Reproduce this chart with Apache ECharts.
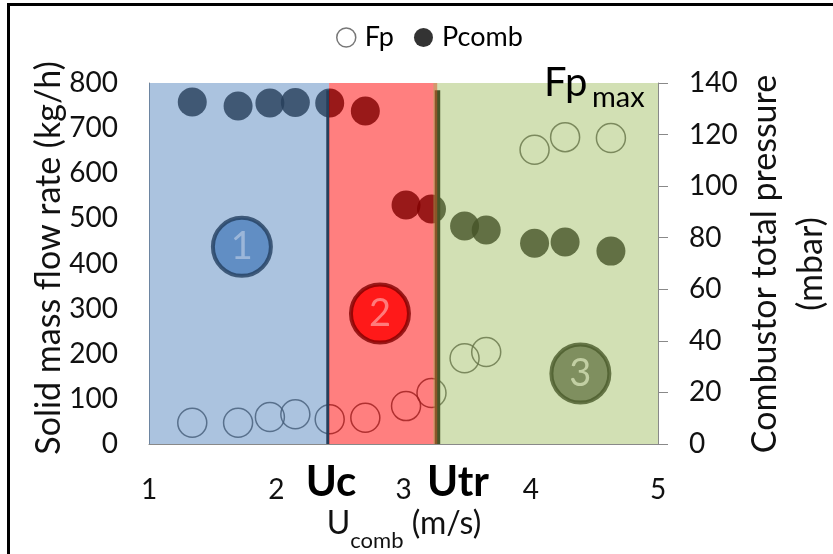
<!DOCTYPE html>
<html>
<head>
<meta charset="utf-8">
<script src="https://cdn.jsdelivr.net/npm/echarts@6/dist/echarts.min.js"></script>
<style>
  html, body { margin: 0; padding: 0; background: #fff; }
  #chart { width: 833px; height: 554px; }
</style>
</head>
<body>
<div id="chart"></div>
<script>
// Combustor gas velocity U_comb (m/s)
const uComb = [1.34, 1.70, 1.95, 2.15, 2.42, 2.70, 3.02, 3.22, 3.48, 3.65, 4.03, 4.27, 4.63];
// Solid mass flow rate Fp (kg/h) - left axis
const fp = [47, 47, 60, 66, 55, 58, 84, 113, 190, 204, 652, 680, 678];
// Combustor total pressure Pcomb (mbar) - right axis
const pComb = [132.6, 131.1, 132.2, 132.4, 132.2, 129.1, 92.7, 91.1, 84.5, 83.0, 77.9, 78.3, 74.8];

// Axis ranges
const xRange = [1, 5, 1];
const leftRange = [0, 800, 100];
const rightRange = [0, 140, 20];

// Flow regimes: [U start, U end, Fp bottom, Fp top]
const regimes = [
  [1.0, 2.415, 0, 800],
  [2.415, 3.265, 0, 800],
  [3.235, 5.0, 0, 800]
];
// Regime labels and their positions [U, Fp]
const regimeLabels = ['1', '2', '3'];
const regimeLabelPos = [[1.73, 437], [2.815, 289], [4.39, 156]];
// Transition velocities Uc and Utr: [U, Fp bottom, Fp top]
const transitions = [[2.405, 0, 784], [3.267, 0, 784]];

const FONT = 'Lato, "Open Sans", sans-serif';
const regimeFill = ['rgba(79,129,189,0.48)', 'rgba(255,0,0,0.5)', 'rgba(155,187,89,0.45)'];
const badgeFill = ['#4f81bd', '#ff0000', '#6a7a4a'];
const badgeStroke = ['#233e5f', '#7f0000', '#4a5a2a'];
const badgeText = ['#aac1df', '#ff9494', '#d3dfb4'];
const transitionWidth = [3, 5.5];

const chart = echarts.init(document.getElementById('chart'), null, { renderer: 'canvas' });

const axisGrey = '#898989';
const tickSize = 28;

// measure text widths for the composed axis title
const ctx = document.createElement('canvas').getContext('2d');
function textWidth(t, size, weight) {
  ctx.font = (weight || 'normal') + ' ' + size + 'px ' + FONT;
  return ctx.measureText(t).width;
}
const tMain = 32, tSub = 22;
const wU = textWidth('U', tMain), wComb = textWidth('comb', tSub), wUnit = textWidth(' (m/s)', tMain);
const xTitleCenter = 404;
const xTitleLeft = xTitleCenter - (wU + wComb + wUnit) / 2;

const option = {
  animation: false,
  backgroundColor: '#fff',
  grid: { left: 149, right: 175, top: 83, bottom: 110, containLabel: false },
  legend: {
    data: [
      { name: 'Fp', icon: 'circle', itemStyle: { color: 'rgba(0,0,0,0)', borderColor: '#555', borderWidth: 1.5 } },
      { name: 'Pcomb', icon: 'circle', itemStyle: { color: '#000' } }
    ],
    left: 331, top: 19,
    itemWidth: 19, itemHeight: 19, itemGap: 20,
    textStyle: { fontFamily: FONT, fontSize: 27, color: '#000', padding: [0, 0, 0, 4] },
    selectedMode: false
  },
  xAxis: {
    type: 'value', min: xRange[0], max: xRange[1], interval: xRange[2],
    axisLine: { show: true, lineStyle: { color: axisGrey, width: 1 } },
    axisTick: { show: false },
    splitLine: { show: false },
    axisLabel: { fontFamily: FONT, fontSize: tickSize, color: '#111', margin: 32 }
  },
  yAxis: [
    {
      type: 'value', min: leftRange[0], max: leftRange[1], interval: leftRange[2],
      axisLine: { show: true, lineStyle: { color: axisGrey, width: 1 } },
      axisTick: { show: false },
      splitLine: { show: false },
      axisLabel: { fontFamily: FONT, fontSize: tickSize, color: '#111', margin: 31 }
    },
    {
      type: 'value', position: 'right', min: rightRange[0], max: rightRange[1], interval: rightRange[2],
      axisLine: { show: true, lineStyle: { color: axisGrey, width: 1 } },
      axisTick: { show: true, length: 10, lineStyle: { color: axisGrey } },
      splitLine: { show: false },
      axisLabel: { fontFamily: FONT, fontSize: tickSize, color: '#111', margin: 31 }
    }
  ],
  series: [
    {
      name: 'Fp', type: 'scatter', yAxisIndex: 0, z: 2, silent: true,
      symbol: 'circle', symbolSize: 29,
      itemStyle: { color: 'rgba(0,0,0,0)', borderColor: '#3a3a3a', borderWidth: 1.5 },
      data: uComb.map((u, i) => [u, fp[i]])
    },
    {
      name: 'Pcomb', type: 'scatter', yAxisIndex: 1, z: 2, silent: true,
      symbol: 'circle', symbolSize: 29,
      itemStyle: { color: '#000' },
      data: uComb.map((u, i) => [u, pComb[i]])
    },
    {
      // transition velocity markers
      name: 'transitions', type: 'custom', yAxisIndex: 0, z: 3, silent: true,
      encode: { x: 0, y: [1, 2] },
      data: transitions,
      renderItem(params, api) {
        const a = api.coord([api.value(0), api.value(1)]);
        const b = api.coord([api.value(0), api.value(2)]);
        return {
          type: 'line',
          shape: { x1: a[0], y1: a[1], x2: b[0], y2: b[1] },
          style: { stroke: '#000', lineWidth: transitionWidth[params.dataIndex] }
        };
      }
    },
    {
      // translucent regime bands laid over the data
      name: 'regimes', type: 'custom', yAxisIndex: 0, z: 10, silent: true,
      encode: { x: [0, 1], y: [2, 3] },
      data: regimes,
      renderItem(params, api) {
        const p0 = api.coord([api.value(0), api.value(3)]);
        const p1 = api.coord([api.value(1), api.value(2)]);
        return {
          type: 'rect',
          shape: { x: p0[0], y: p0[1], width: p1[0] - p0[0], height: p1[1] - p0[1] },
          style: { fill: regimeFill[params.dataIndex] }
        };
      }
    },
    {
      name: 'regimeBadges', type: 'scatter', yAxisIndex: 0, z: 12, silent: true,
      symbol: 'circle', symbolSize: 58,
      data: regimeLabelPos.map((p, i) => ({
        value: p,
        itemStyle: { color: badgeFill[i], borderColor: badgeStroke[i], borderWidth: 4 },
        label: {
          show: true, position: 'inside', formatter: regimeLabels[i],
          fontFamily: FONT, fontSize: 38, color: badgeText[i]
        }
      }))
    }
  ],
  graphic: [
    // frame
    { type: 'rect', silent: true, shape: { x: 8.5, y: 4.5, width: 900, height: 700 },
      style: { fill: 'none', stroke: '#000', lineWidth: 3 } },
    // left axis title
    { type: 'text', x: 49, y: 258, rotation: Math.PI / 2, silent: true,
      style: { text: 'Solid mass flow rate (kg/h)', fontFamily: FONT, fontSize: 34, fill: '#111',
               align: 'center', verticalAlign: 'middle' } },
    // right axis title
    { type: 'text', x: 788, y: 264, rotation: Math.PI / 2, silent: true,
      style: { text: 'Combustor total pressure\n(mbar)', fontFamily: FONT, fontSize: 34, lineHeight: 46,
               fill: '#111', align: 'center', verticalAlign: 'middle' } },
    // x axis title
    { type: 'text', x: xTitleLeft, y: 524, silent: true,
      style: { text: 'U', fontFamily: FONT, fontSize: tMain, fill: '#111', align: 'left', verticalAlign: 'middle' } },
    { type: 'text', x: xTitleLeft + wU, y: 541, silent: true,
      style: { text: 'comb', fontFamily: FONT, fontSize: tSub, fill: '#111', align: 'left', verticalAlign: 'middle' } },
    { type: 'text', x: xTitleLeft + wU + wComb, y: 524, silent: true,
      style: { text: ' (m/s)', fontFamily: FONT, fontSize: tMain, fill: '#111', align: 'left', verticalAlign: 'middle' } },
    // transition velocity labels
    { type: 'text', x: 331, y: 482, silent: true,
      style: { text: 'Uc', fontFamily: FONT, fontSize: 42, fontWeight: 'bold', fill: '#000', align: 'center', verticalAlign: 'middle' } },
    { type: 'text', x: 458, y: 482, silent: true,
      style: { text: 'Utr', fontFamily: FONT, fontSize: 42, fontWeight: 'bold', fill: '#000', align: 'center', verticalAlign: 'middle' } },
    // maximum solid flow annotation
    { type: 'text', x: 544, y: 83, silent: true, z: 20,
      style: { text: 'Fp', fontFamily: FONT, fontSize: 40, fill: '#000', align: 'left', verticalAlign: 'middle' } },
    { type: 'text', x: 592, y: 98, silent: true, z: 20,
      style: { text: 'max', fontFamily: FONT, fontSize: 29, fill: '#000', align: 'left', verticalAlign: 'middle' } }
  ]
};

chart.setOption(option);
</script>
</body>
</html>
